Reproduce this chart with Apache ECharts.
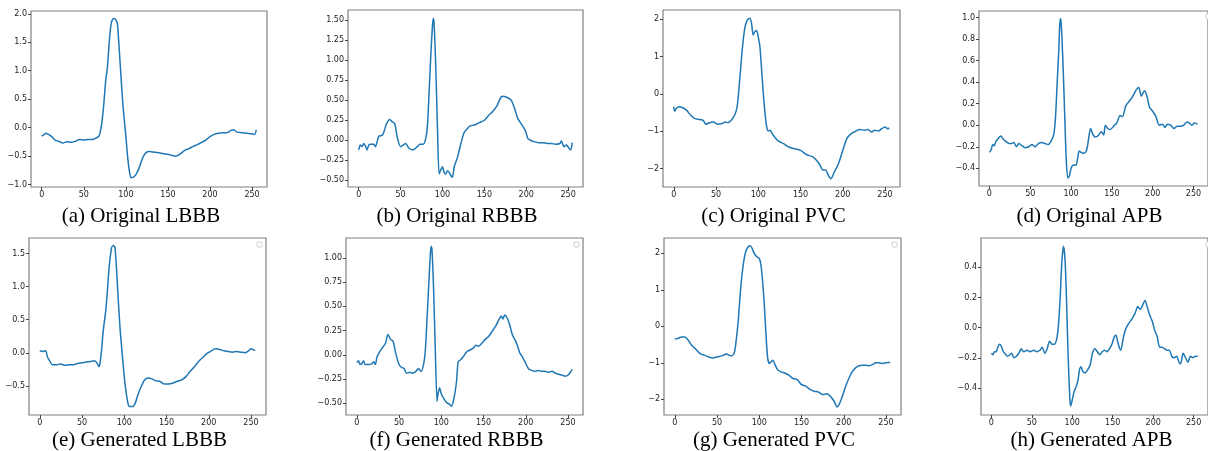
<!DOCTYPE html>
<html>
<head>
<meta charset="utf-8">
<script src="https://cdn.jsdelivr.net/npm/echarts@6/dist/echarts.min.js"></script>
<style>
html,body{margin:0;padding:0;background:#fff;}
#chart{width:1208px;height:451px;}
</style>
</head>
<body>
<div id="chart"></div>
<script>
// ---- data (sample index, amplitude) ----
const origLBBB = [[0,-0.15],[3,-0.12],[5,-0.1],[8,-0.12],[12,-0.16],[16,-0.22],[20,-0.24],[25,-0.27],[30,-0.25],[35,-0.26],[40,-0.24],[45,-0.21],[50,-0.22],[55,-0.21],[60,-0.21],[65,-0.18],[68,-0.15],[70,-0.05],[72,0.15],[74,0.45],[76,0.82],[78,1.05],[80,1.45],[82,1.78],[84,1.9],[86,1.92],[88,1.9],[90,1.82],[92,1.4],[94,0.95],[96,0.5],[98,0.15],[100,-0.15],[102,-0.5],[104,-0.75],[106,-0.88],[108,-0.88],[110,-0.86],[113,-0.8],[116,-0.7],[120,-0.53],[124,-0.44],[128,-0.42],[132,-0.43],[138,-0.44],[145,-0.46],[150,-0.47],[155,-0.49],[160,-0.5],[165,-0.46],[170,-0.4],[175,-0.37],[180,-0.33],[185,-0.3],[190,-0.26],[195,-0.22],[200,-0.16],[205,-0.12],[210,-0.1],[215,-0.09],[220,-0.09],[225,-0.05],[228,-0.04],[232,-0.08],[238,-0.09],[244,-0.1],[250,-0.11],[253,-0.12],[255,-0.04]];
const origRBBB = [[0,-0.12],[2,-0.06],[4,-0.08],[6,-0.04],[8,-0.07],[10,-0.12],[12,-0.06],[14,-0.05],[18,-0.05],[20,-0.08],[24,0.05],[28,0.06],[30,0.1],[33,0.2],[37,0.26],[40,0.23],[43,0.21],[46,0.04],[50,-0.08],[53,-0.06],[56,-0.04],[60,-0.1],[65,-0.12],[70,-0.08],[73,-0.05],[77,-0.05],[80,0.02],[82,0.17],[84,0.58],[86,1.04],[88,1.42],[89,1.52],[90,1.46],[92,0.92],[94,0.17],[96,-0.42],[98,-0.37],[100,-0.33],[102,-0.4],[104,-0.42],[106,-0.38],[108,-0.4],[110,-0.44],[112,-0.46],[114,-0.33],[118,-0.21],[122,-0.04],[126,0.1],[130,0.15],[133,0.18],[138,0.19],[144,0.22],[150,0.25],[155,0.31],[160,0.36],[165,0.43],[170,0.54],[173,0.55],[178,0.53],[182,0.5],[186,0.4],[190,0.27],[195,0.19],[199,0.12],[202,0.02],[205,0],[210,-0.02],[215,-0.03],[220,-0.03],[225,-0.04],[230,-0.04],[235,-0.05],[240,-0.04],[242,-0.01],[245,-0.08],[248,-0.06],[251,-0.1],[253,-0.12],[255,-0.03]];
const origPVC = [[0,-0.34],[1,-0.46],[3,-0.39],[6,-0.34],[10,-0.36],[15,-0.43],[20,-0.57],[25,-0.66],[30,-0.68],[35,-0.71],[38,-0.81],[42,-0.77],[47,-0.75],[52,-0.81],[57,-0.79],[61,-0.75],[64,-0.77],[68,-0.7],[72,-0.57],[75,-0.34],[78,0.37],[81,1.18],[84,1.76],[87,1.98],[90,2.03],[92,1.9],[94,1.58],[96,1.67],[98,1.7],[100,1.53],[102,1.26],[104,0.64],[106,0.01],[108,-0.52],[110,-0.88],[112,-0.99],[114,-0.97],[116,-1.04],[120,-1.17],[124,-1.26],[130,-1.33],[136,-1.42],[142,-1.46],[150,-1.51],[157,-1.62],[165,-1.69],[172,-1.86],[176,-2.03],[180,-2.04],[183,-2.18],[186,-2.27],[190,-2.09],[195,-1.86],[200,-1.51],[205,-1.19],[210,-1.06],[215,-1.0],[220,-0.95],[226,-0.97],[230,-0.95],[234,-1.02],[238,-0.97],[242,-0.99],[246,-0.93],[250,-0.88],[253,-0.93],[255,-0.91]];
const origAPB = [[0,-0.25],[2,-0.23],[4,-0.18],[6,-0.19],[8,-0.15],[11,-0.12],[14,-0.1],[17,-0.13],[20,-0.15],[24,-0.17],[27,-0.17],[30,-0.16],[33,-0.2],[36,-0.17],[40,-0.19],[44,-0.21],[48,-0.2],[52,-0.18],[56,-0.2],[60,-0.17],[64,-0.16],[68,-0.17],[72,-0.18],[76,-0.14],[79,-0.08],[81,0.08],[83,0.39],[85,0.7],[86,0.91],[87,0.99],[88,0.94],[90,0.6],[92,0.15],[94,-0.3],[96,-0.49],[98,-0.47],[100,-0.4],[103,-0.37],[106,-0.37],[108,-0.31],[110,-0.24],[112,-0.25],[115,-0.26],[118,-0.25],[120,-0.2],[122,-0.1],[124,-0.03],[127,-0.09],[130,-0.11],[134,-0.09],[137,-0.06],[140,-0.09],[142,0],[145,-0.03],[148,-0.04],[152,-0.01],[156,0.02],[160,0.09],[163,0.08],[167,0.18],[171,0.22],[175,0.26],[180,0.33],[183,0.35],[186,0.27],[190,0.32],[193,0.27],[196,0.17],[200,0.13],[204,0.08],[208,0],[212,0.01],[215,-0.02],[218,0.01],[222,0],[226,-0.03],[230,-0.01],[234,-0.01],[238,0],[242,0.03],[245,0.02],[248,0],[251,0.02],[255,0.01]];
const genLBBB = [[0,0.03],[4,0.02],[7,0.03],[9,-0.06],[12,-0.13],[15,-0.18],[20,-0.18],[25,-0.17],[30,-0.19],[35,-0.18],[40,-0.18],[45,-0.16],[50,-0.15],[55,-0.14],[60,-0.13],[65,-0.12],[68,-0.16],[70,-0.21],[71,-0.18],[73,0.02],[75,0.32],[78,0.63],[80,0.93],[82,1.28],[85,1.59],[87,1.62],[89,1.59],[91,1.23],[93,0.78],[95,0.37],[98,-0.08],[101,-0.48],[104,-0.74],[106,-0.81],[110,-0.81],[113,-0.76],[116,-0.64],[120,-0.51],[124,-0.41],[128,-0.38],[132,-0.39],[137,-0.42],[142,-0.43],[147,-0.47],[152,-0.47],[157,-0.46],[163,-0.43],[168,-0.41],[173,-0.36],[178,-0.28],[183,-0.21],[188,-0.13],[193,-0.07],[198,-0.01],[203,0.03],[208,0.06],[213,0.05],[218,0.03],[223,0.02],[228,0.01],[233,0.02],[238,0.01],[243,0.0],[247,0.03],[250,0.06],[253,0.045],[255,0.035]];
const genRBBB = [[0,-0.08],[2,-0.06],[4,-0.1],[6,-0.09],[8,-0.06],[10,-0.1],[14,-0.1],[18,-0.09],[20,-0.07],[22,-0.1],[24,-0.02],[27,0.03],[30,0.07],[34,0.12],[37,0.21],[40,0.16],[43,0.14],[46,0.02],[50,-0.1],[53,-0.13],[56,-0.14],[59,-0.19],[63,-0.18],[66,-0.19],[70,-0.17],[73,-0.14],[76,-0.17],[79,-0.1],[81,0.03],[83,0.34],[85,0.69],[87,1.03],[88,1.12],[89,1.09],[91,0.66],[93,0.03],[95,-0.48],[96,-0.41],[98,-0.34],[100,-0.4],[103,-0.45],[106,-0.49],[110,-0.51],[112,-0.53],[115,-0.45],[118,-0.28],[120,-0.07],[123,-0.05],[126,-0.02],[130,0.03],[134,0.05],[138,0.07],[141,0.1],[144,0.09],[148,0.12],[152,0.16],[156,0.19],[160,0.24],[164,0.29],[168,0.36],[171,0.4],[173,0.37],[175,0.41],[178,0.38],[181,0.31],[184,0.21],[187,0.16],[190,0.1],[193,0.02],[196,-0.02],[199,-0.07],[203,-0.14],[207,-0.16],[211,-0.17],[215,-0.16],[219,-0.17],[223,-0.17],[227,-0.18],[231,-0.17],[235,-0.19],[239,-0.2],[243,-0.21],[247,-0.22],[250,-0.21],[252,-0.19],[255,-0.15]];
const genPVC = [[0,-0.35],[4,-0.33],[8,-0.29],[12,-0.29],[16,-0.38],[20,-0.52],[25,-0.63],[30,-0.75],[35,-0.79],[40,-0.84],[45,-0.87],[50,-0.84],[55,-0.81],[58,-0.79],[61,-0.75],[64,-0.79],[67,-0.81],[70,-0.75],[72,-0.52],[75,0.12],[78,1.04],[81,1.68],[84,2.05],[87,2.18],[89,2.21],[91,2.16],[94,2.0],[97,1.91],[100,1.86],[102,1.68],[104,1.22],[106,0.58],[108,-0.24],[110,-0.88],[112,-1.02],[114,-0.97],[116,-0.93],[119,-1.07],[122,-1.2],[126,-1.25],[130,-1.28],[135,-1.34],[140,-1.43],[145,-1.46],[150,-1.6],[155,-1.64],[160,-1.73],[165,-1.78],[170,-1.8],[175,-1.87],[180,-1.85],[185,-1.94],[189,-2.07],[192,-2.21],[195,-2.12],[198,-1.94],[202,-1.66],[206,-1.43],[210,-1.25],[214,-1.14],[218,-1.08],[222,-1.07],[226,-1.07],[230,-1.08],[234,-1.05],[238,-1.0],[242,-1.0],[246,-1.02],[250,-1.0],[253,-0.99],[255,-0.99]];
const genAPB = [[0,-0.17],[2,-0.18],[4,-0.16],[6,-0.16],[8,-0.13],[10,-0.11],[12,-0.12],[15,-0.16],[18,-0.18],[20,-0.19],[23,-0.18],[25,-0.17],[28,-0.2],[31,-0.19],[34,-0.17],[37,-0.14],[40,-0.16],[44,-0.15],[48,-0.16],[52,-0.15],[56,-0.16],[60,-0.15],[63,-0.13],[66,-0.17],[69,-0.14],[72,-0.09],[75,-0.11],[78,-0.11],[81,-0.07],[83,0.02],[85,0.19],[87,0.42],[89,0.54],[91,0.46],[93,0.17],[95,-0.2],[97,-0.47],[98,-0.52],[100,-0.48],[102,-0.43],[105,-0.39],[107,-0.35],[109,-0.28],[111,-0.26],[113,-0.29],[116,-0.3],[119,-0.28],[122,-0.25],[125,-0.17],[128,-0.14],[131,-0.16],[134,-0.18],[137,-0.16],[140,-0.15],[143,-0.16],[146,-0.14],[149,-0.11],[152,-0.06],[154,-0.05],[156,-0.09],[158,-0.13],[160,-0.15],[163,-0.07],[166,-0.01],[170,0.03],[174,0.06],[178,0.1],[181,0.14],[184,0.12],[187,0.15],[190,0.18],[193,0.13],[196,0.08],[199,0.04],[202,-0.02],[205,-0.06],[208,-0.13],[211,-0.13],[214,-0.14],[217,-0.15],[220,-0.15],[223,-0.19],[226,-0.2],[229,-0.19],[232,-0.23],[234,-0.24],[237,-0.17],[240,-0.2],[243,-0.23],[246,-0.19],[249,-0.2],[252,-0.19],[255,-0.19]];

// ---- tick labels ----
const xTicks = [0, 50, 100, 150, 200, 250];
const yTicksA = [-1.0, -0.5, 0.0, 0.5, 1.0, 1.5, 2.0];
const yTicksB = [-0.5, -0.25, 0, 0.25, 0.5, 0.75, 1.0, 1.25, 1.5];
const yTicksC = [-2, -1, 0, 1, 2];
const yTicksD = [-0.4, -0.2, 0, 0.2, 0.4, 0.6, 0.8, 1.0];
const yTicksE = [-0.5, 0.0, 0.5, 1.0, 1.5];
const yTicksF = [-0.5, -0.25, 0, 0.25, 0.5, 0.75, 1.0];
const yTicksG = [-2, -1, 0, 1, 2];
const yTicksH = [-0.4, -0.2, 0, 0.2, 0.4];

// ---- captions ----
const captions = ['(a) Original LBBB', '(b) Original RBBB', '(c) Original PVC', '(d) Original APB',
                  '(e) Generated LBBB', '(f) Generated RBBB', '(g) Generated PVC', '(h) Generated APB'];

// ---- layout (pixel boxes of each panel) ----
const panels = [
  {data: origLBBB, ticks: yTicksA, dec: 1, min: -1.045, max: 2.05,  box: [31, 11, 236, 176], cap: [141, 216]},
  {data: origRBBB, ticks: yTicksB, dec: 2, min: -0.583, max: 1.625, box: [348, 10, 235, 177], cap: [457, 216]},
  {data: origPVC,  ticks: yTicksC, dec: 0, min: -2.49,  max: 2.25,  box: [663, 10, 237, 177], cap: [773.5, 216]},
  {data: origAPB,  ticks: yTicksD, dec: 1, min: -0.564, max: 1.06,  box: [979, 11, 243, 175], cap: [1089.5, 216]},
  {data: genLBBB,  ticks: yTicksE, dec: 1, min: -0.94,  max: 1.735, box: [29, 238, 237, 177], cap: [139.5, 440]},
  {data: genRBBB,  ticks: yTicksF, dec: 2, min: -0.62,  max: 1.205, box: [346, 238, 237, 177], cap: [456.5, 440]},
  {data: genPVC,   ticks: yTicksG, dec: 0, min: -2.43,  max: 2.42,  box: [664, 238, 237, 177], cap: [774, 440]},
  {data: genAPB,   ticks: yTicksH, dec: 1, min: -0.58,  max: 0.595, box: [981, 238, 241, 177], cap: [1091.5, 440]}
];
const legendBoxes = [[1206, 14], [257, 242], [574, 242], [892, 242], [1206, 242]];

const fmt = (v, d) => Number(v).toFixed(d).replace('-', '\u2212');
const labelStyle = {fontSize: 8, color: '#222', fontFamily: 'DejaVu Sans'};

const grid = [], xAxis = [], yAxis = [], series = [], graphic = [];
panels.forEach((p, i) => {
  grid.push({left: p.box[0], top: p.box[1], width: p.box[2], height: p.box[3],
             show: true, borderColor: '#808080', borderWidth: 1.2, backgroundColor: '#fff'});
  xAxis.push({type: 'value', gridIndex: i, min: -12.75, max: 267.75,
    axisLine: {show: false, onZero: false},
    axisTick: {show: true, length: 3, customValues: xTicks, lineStyle: {color: '#444'}},
    axisLabel: Object.assign({customValues: xTicks, margin: 4, formatter: v => fmt(v, 0)}, labelStyle),
    splitLine: {show: false}});
  yAxis.push({type: 'value', gridIndex: i, min: p.min, max: p.max,
    axisLine: {show: false, onZero: false},
    axisTick: {show: true, length: 3, customValues: p.ticks, lineStyle: {color: '#444'}},
    axisLabel: Object.assign({customValues: p.ticks, margin: 4, formatter: v => fmt(v, p.dec)}, labelStyle),
    splitLine: {show: false}});
  series.push({type: 'line', xAxisIndex: i, yAxisIndex: i, data: p.data, showSymbol: false,
    smooth: 0.25, lineStyle: {color: '#1f77b4', width: 1.5}, itemStyle: {color: '#1f77b4'}});
  graphic.push({type: 'text', x: p.cap[0], y: p.cap[1],
    style: {text: captions[i], fontSize: 21, fontFamily: '"Liberation Serif", "Times New Roman", serif',
            fill: '#000', textAlign: 'center', textVerticalAlign: 'middle'}});
});
legendBoxes.forEach(b => {
  graphic.push({type: 'rect', shape: {x: b[0], y: b[1], width: 5, height: 5, r: 1},
    style: {fill: '#fff', stroke: '#d0d0d0', lineWidth: 1}, z: 100});
});

const chart = echarts.init(document.getElementById('chart'), null, {renderer: 'canvas'});
chart.setOption({animation: false, backgroundColor: '#fff', grid, xAxis, yAxis, series, graphic});
</script>
</body>
</html>
